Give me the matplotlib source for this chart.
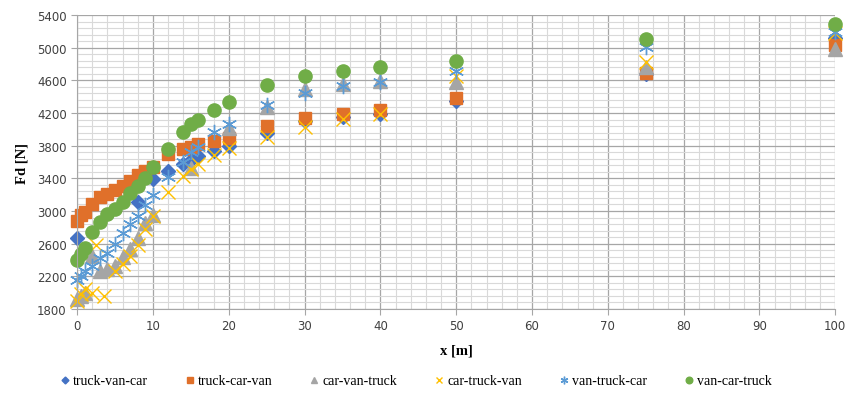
import matplotlib.pyplot as plt
from matplotlib.ticker import MultipleLocator

# data (x in m, Fd in N)
x_blue = [0, 8, 10, 12, 14, 15, 16, 18, 20, 25, 30, 35, 40, 50, 75, 100]
truck_van_car = [2670, 3110, 3390, 3490, 3580, 3630, 3670, 3730, 3800, 3960, 4100, 4150, 4190, 4350, 4680, 5120]

x_orange = [0, 0.5, 1, 2, 3, 4, 5, 6, 7, 8, 9, 10, 12, 14, 15, 16, 18, 20, 25, 30, 35, 40, 50, 75, 100]
truck_car_van = [2880, 2950, 2990, 3080, 3170, 3210, 3260, 3300, 3370, 3440, 3490, 3540, 3700, 3760, 3780,
                 3820, 3860, 3890, 4040, 4140, 4190, 4240, 4390, 4690, 5030]

x_gray = [0, 0.5, 1, 2, 3, 4, 5, 6, 7, 8, 9, 10, 15, 20, 25, 30, 35, 40, 50, 75, 100]
car_van_truck = [1920, 1960, 2000, 2450, 2260, 2290, 2330, 2440, 2530, 2670, 2850, 2950, 3530, 4020,
                 4280, 4500, 4560, 4590, 4580, 4760, 4990]

x_yellow = [0, 0.5, 1, 2, 2.5, 3.5, 5, 6, 7, 8, 9, 10, 12, 14, 15, 16, 18, 20, 25, 30, 35, 40, 50, 75, 100]
car_truck_van = [1900, 1980, 2050, 1990, 2580, 1960, 2260, 2350, 2450, 2580, 2780, 2940, 3230, 3430, 3520,
                 3580, 3680, 3770, 3910, 4030, 4130, 4190, 4650, 4820, 5180]

x_lblue = [0, 0.5, 1, 2, 3, 4, 5, 6, 7, 8, 9, 10, 12, 14, 15, 16, 18, 20, 25, 30, 35, 40, 50, 75, 100]
van_truck_car = [2150, 2200, 2260, 2330, 2420, 2480, 2600, 2730, 2840, 2940, 3070, 3190, 3420, 3600, 3720,
                 3780, 3970, 4070, 4300, 4440, 4530, 4580, 4720, 5010, 5190]

x_green = [0, 0.5, 1, 2, 3, 4, 5, 6, 7, 8, 9, 10, 12, 14, 15, 16, 18, 20, 25, 30, 35, 40, 50, 75, 100]
van_car_truck = [2400, 2470, 2550, 2740, 2860, 2960, 3020, 3110, 3220, 3310, 3400, 3540, 3760, 3970, 4060,
                 4120, 4240, 4340, 4540, 4650, 4720, 4770, 4840, 5110, 5290]

fig = plt.figure(figsize=(8.48, 4.02), dpi=100)
ax = fig.add_axes([0.091, 0.229, 0.894, 0.731])

style = dict(linestyle='none', clip_on=False)
ax.plot(x_blue, truck_van_car, marker='D', ms=7, color='#4472C4', label='truck-van-car', **style)
ax.plot(x_orange, truck_car_van, marker='s', ms=9, color='#E0702A', label='truck-car-van', **style)
ax.plot(x_gray, car_van_truck, marker='^', ms=9.5, color='#A5A5A5', label='car-van-truck', **style)
ax.plot(x_yellow, car_truck_van, marker='x', ms=9.5, mew=1.0, color='#FFC000', label='car-truck-van', **style)
ax.plot(x_lblue, van_truck_car, marker=(6, 2, 0), ms=11, mew=1.0, color='#5B9BD5', label='van-truck-car', **style)
ax.plot(x_green, van_car_truck, marker='o', ms=9.5, color='#70AD47', label='van-car-truck', **style)

ax.set_xlim(0, 100)
ax.set_ylim(1800, 5400)
ax.xaxis.set_major_locator(MultipleLocator(10))
ax.xaxis.set_minor_locator(MultipleLocator(2))
ax.yaxis.set_major_locator(MultipleLocator(400, offset=200))
ax.yaxis.set_minor_locator(MultipleLocator(80, offset=40))
ax.grid(which='major', color='#A6A6A6', lw=0.9)
ax.grid(which='minor', color='#D9D9D9', lw=0.8)
ax.set_axisbelow(True)

for side in ['top', 'right']:
    ax.spines[side].set_visible(False)
for side in ['left', 'bottom']:
    ax.spines[side].set_color('#A6A6A6')
ax.tick_params(which='major', length=4, color='#A6A6A6', labelsize=8.5, labelcolor='#404040')
ax.tick_params(which='minor', length=0)

ax.set_xlabel('x [m]', family='Liberation Serif', fontweight='bold', fontsize=10.5, labelpad=8)
ax.set_ylabel('Fd [N]', family='Liberation Serif', fontweight='bold', fontsize=10.5, labelpad=6)

fig.legend(loc='center', bbox_to_anchor=(0.49, 0.05), ncol=6, frameon=False,
           prop={'family': 'Liberation Serif', 'size': 10}, markerscale=0.5,
           handlelength=0.8, handletextpad=0.2, columnspacing=2.6)

fig.savefig('out.png', dpi=100)
